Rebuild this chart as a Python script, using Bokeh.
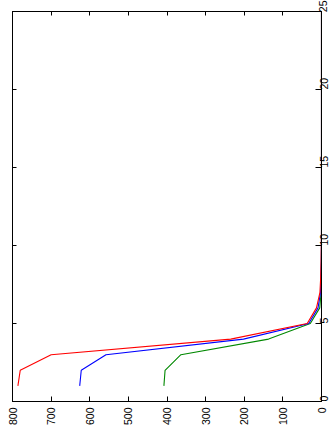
import math
from bokeh.plotting import figure
from bokeh.models import Range1d, LinearAxis, FixedTicker
from bokeh.embed import file_html
from bokeh.resources import INLINE

# iteration index (vertical axis, right side) and values (horizontal axis, reversed)
index = list(range(1, 26))
red_vals = [786, 780, 700, 235, 37, 13, 4, 2, 1, 0.5] + [0] * 15
blue_vals = [626, 622, 558, 202, 33, 9, 2.5, 1.5, 0.5, 0.2] + [0] * 15
green_vals = [408, 405, 364, 137, 29, 4.5, 1, 0.5, 0.2, 0] + [0] * 15

value_ticks = [0, 100, 200, 300, 400, 500, 600, 700, 800]
index_ticks = [0, 5, 10, 15, 20, 25]

FONT = "Liberation Sans"

p = figure(width=335, height=435, output_backend="svg", toolbar_location=None,
           x_range=Range1d(800, 0), y_range=Range1d(0, 25),
           x_axis_location="below", y_axis_location="right",
           min_border_left=12, min_border_top=11, min_border_right=14, min_border_bottom=34)
p.grid.visible = False
p.outline_line_color = "black"
p.outline_line_width = 1
p.background_fill_color = "white"
p.border_fill_color = "white"

p.line(green_vals, index, line_color="#008800", line_width=1.1)
p.line(blue_vals, index, line_color="#0000ff", line_width=1.1)
p.line(red_vals, index, line_color="#ff0000", line_width=1.1)

xa = p.xaxis[0]
xa.ticker = FixedTicker(ticks=value_ticks)
xa.minor_tick_line_color = None
xa.major_tick_in = 5
xa.major_tick_out = 0
xa.major_label_orientation = math.pi / 2
xa.major_label_standoff = 6
xa.major_label_text_font = FONT
xa.major_label_text_font_size = "10.5px"
xa.major_label_text_color = "black"
xa.axis_line_color = "black"
xa.major_tick_line_color = "black"

ya = p.yaxis[0]
ya.ticker = FixedTicker(ticks=index_ticks)
ya.minor_tick_line_color = None
ya.major_tick_in = 6
ya.major_tick_out = 0
ya.major_label_orientation = math.pi / 2
ya.major_label_standoff = 2
ya.major_label_text_font = FONT
ya.major_label_text_font_size = "10.5px"
ya.major_label_text_color = "black"
ya.axis_line_color = "black"
ya.major_tick_line_color = "black"

# mirrored inward ticks on the opposite sides (no labels)
top = LinearAxis(ticker=FixedTicker(ticks=value_ticks), major_tick_in=4, major_tick_out=0,
                 minor_tick_line_color=None, major_label_standoff=0,
                 major_label_text_font_size="1px",
                 major_label_overrides={t: "" for t in value_ticks},
                 axis_line_color="black", major_tick_line_color="black")
p.add_layout(top, "above")
left = LinearAxis(ticker=FixedTicker(ticks=index_ticks), major_tick_in=4, major_tick_out=0,
                  minor_tick_line_color=None, major_label_standoff=0,
                  major_label_text_font_size="1px",
                  major_label_overrides={t: "" for t in index_ticks},
                  axis_line_color="black", major_tick_line_color="black")
p.add_layout(left, "left")

open("out.html", "w").write(file_html(p, INLINE))
